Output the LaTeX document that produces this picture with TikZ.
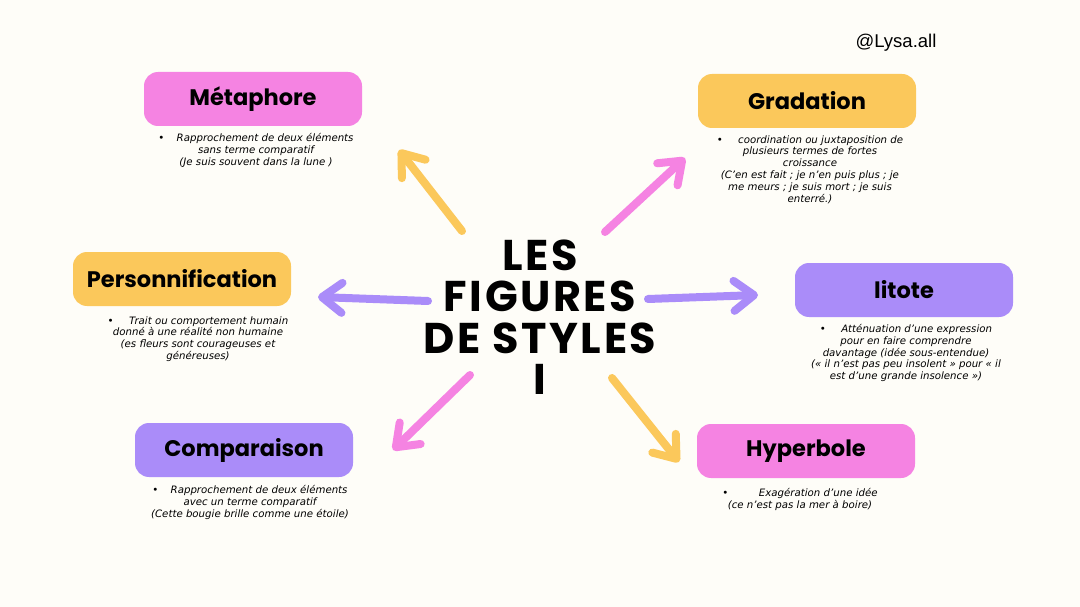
\documentclass[tikz,border=0pt]{standalone}
\usepackage{fontspec}
\setmainfont{DejaVu Sans}
\newfontfamily\titlefont{Poppins}
\newfontfamily\bigfont[LetterSpace=6]{Poppins}
\newfontfamily\tagfont{Liberation Sans}
\usetikzlibrary{positioning,arrows.meta}
\definecolor{paper}{HTML}{FEFDF8}
\definecolor{pinkbox}{HTML}{F583E2}
\definecolor{yellowbox}{HTML}{FBC85B}
\definecolor{purplebox}{HTML}{AA8CF9}
\tikzset{
    title-box/.style = {rectangle, rounded corners=14pt, minimum width=218pt, minimum height=54pt, font=\titlefont\bfseries\fontsize{22.5}{25}\selectfont, text=black},
    desc-text/.style = {align=center, font=\itshape\fontsize{10.2}{11.8}\selectfont, inner sep=0pt},
    centre-line/.style = {font=\bigfont\bfseries\fontsize{43}{43}\selectfont, inner sep=0pt, text height=30pt, text depth=0pt},
    fig-arrow/.style = {line width=8pt, line cap=round, -{Straight Barb[length=20pt,width=30pt,round]}},
}

\begin{document}
\begin{tikzpicture}[x=1pt, y=-1pt]
\fill[paper] (0,0) rectangle (1080,607);
\useasboundingbox (0,0) rectangle (1080,607);

% centre
\node[centre-line, anchor=north] (centre-les) at (540,240) {LES};
\node[centre-line, below=11pt of centre-les] (centre-figures) {FIGURES};
\node[centre-line, below=11pt of centre-figures] (centre-de) {DE STYLES};
\node[centre-line, below=11pt of centre-de] (centre-i) {I};
\node[font=\tagfont\fontsize{18.5}{20}\selectfont] (signature) at (896,43) {@Lysa.all};

% boxes
\node[title-box, fill=pinkbox] (metaphore) at (253,99) {Métaphore};
\node[title-box, fill=yellowbox] (gradation) at (807,101) {Gradation};
\node[title-box, fill=yellowbox] (personnification) at (182,279) {Personnification};
\node[title-box, fill=purplebox] (litote) at (904,290) {litote};
\node[title-box, fill=purplebox] (comparaison) at (244,450) {Comparaison};
\node[title-box, fill=pinkbox] (hyperbole) at (806,451) {Hyperbole};

% texts
\node[desc-text, below=7pt of metaphore, xshift=3pt] (metaphore-text) {\textbullet\hspace{1.2em}Rapprochement de deux éléments\\sans terme comparatif\\(Je suis souvent dans la lune )};
\node[desc-text, below=7pt of gradation, xshift=3pt] (gradation-text) {\textbullet\hspace{1.5em}coordination ou juxtaposition de\\plusieurs termes de fortes\\croissance\\(C'en est fait ; je n'en puis plus ; je\\me meurs ; je suis mort ; je suis\\enterré.)};
\node[desc-text, below=10pt of personnification, xshift=16pt] (personnification-text) {\textbullet\hspace{1.5em}Trait ou comportement humain\\donné à une réalité non humaine\\(es fleurs sont courageuses et\\généreuses)};
\node[desc-text, below=7pt of litote, xshift=2pt] (litote-text) {\textbullet\hspace{1.5em}Atténuation d'une expression\\pour en faire comprendre\\davantage (idée sous-entendue)\\(« il n'est pas peu insolent » pour « il\\est d'une grande insolence »)};
\node[desc-text, below=8pt of comparaison, xshift=6pt] (comparaison-text) {\textbullet\hspace{1.2em}Rapprochement de deux éléments\\avec un terme comparatif\\(Cette bougie brille comme une étoile)};
\node[desc-text, below=10pt of hyperbole, xshift=-6pt] (hyperbole-text) {\textbullet\hspace{3em}Exagération d'une idée\\(ce n'est pas la mer à boire)};

% arrows
\coordinate (a1) at (462,231); \coordinate (b1) at (399,150);
\coordinate (a2) at (605,232); \coordinate (b2) at (685,158);
\coordinate (a3) at (428,301); \coordinate (b3) at (318,297);
\coordinate (a4) at (648,299); \coordinate (b4) at (758,295);
\coordinate (a5) at (470,375); \coordinate (b5) at (393,450);
\coordinate (a6) at (612,378); \coordinate (b6) at (679,462);
\draw[fig-arrow, yellowbox] (a1) -- (b1);
\draw[fig-arrow, pinkbox] (a2) -- (b2);
\draw[fig-arrow, purplebox] (a3) -- (b3);
\draw[fig-arrow, purplebox] (a4) -- (b4);
\draw[fig-arrow, pinkbox] (a5) -- (b5);
\draw[fig-arrow, yellowbox] (a6) -- (b6);
\end{tikzpicture}
\end{document}
